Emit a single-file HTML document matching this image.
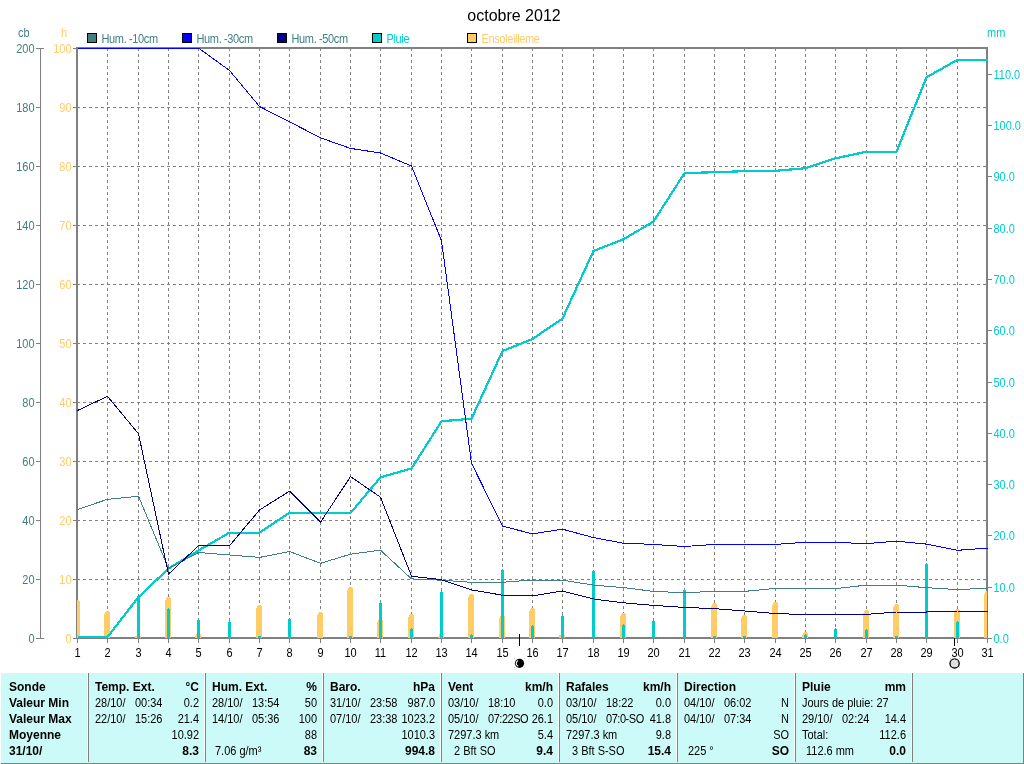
<!DOCTYPE html>
<html><head><meta charset="utf-8"><style>
html,body{margin:0;padding:0;background:#fff;width:1024px;height:764px;overflow:hidden}
svg{display:block;will-change:transform}
text{font-family:"Liberation Sans", sans-serif}
</style></head><body>
<svg width="1024" height="764" viewBox="0 0 1024 764" shape-rendering="crispEdges">
<rect width="1024" height="764" fill="#fff"/>
<line x1="77" y1="107.5" x2="986" y2="107.5" stroke="#808080" stroke-dasharray="3 3"/>
<line x1="77" y1="166.5" x2="986" y2="166.5" stroke="#808080" stroke-dasharray="3 3"/>
<line x1="77" y1="225.5" x2="986" y2="225.5" stroke="#808080" stroke-dasharray="3 3"/>
<line x1="77" y1="284.5" x2="986" y2="284.5" stroke="#808080" stroke-dasharray="3 3"/>
<line x1="77" y1="343.5" x2="986" y2="343.5" stroke="#808080" stroke-dasharray="3 3"/>
<line x1="77" y1="402.5" x2="986" y2="402.5" stroke="#808080" stroke-dasharray="3 3"/>
<line x1="77" y1="461.5" x2="986" y2="461.5" stroke="#808080" stroke-dasharray="3 3"/>
<line x1="77" y1="520.5" x2="986" y2="520.5" stroke="#808080" stroke-dasharray="3 3"/>
<line x1="77" y1="579.5" x2="986" y2="579.5" stroke="#808080" stroke-dasharray="3 3"/>
<line x1="107.5" y1="48" x2="107.5" y2="637" stroke="#808080" stroke-dasharray="3 3"/>
<line x1="138.5" y1="48" x2="138.5" y2="637" stroke="#808080" stroke-dasharray="3 3"/>
<line x1="168.5" y1="48" x2="168.5" y2="637" stroke="#808080" stroke-dasharray="3 3"/>
<line x1="198.5" y1="48" x2="198.5" y2="637" stroke="#808080" stroke-dasharray="3 3"/>
<line x1="229.5" y1="48" x2="229.5" y2="637" stroke="#808080" stroke-dasharray="3 3"/>
<line x1="259.5" y1="48" x2="259.5" y2="637" stroke="#808080" stroke-dasharray="3 3"/>
<line x1="289.5" y1="48" x2="289.5" y2="637" stroke="#808080" stroke-dasharray="3 3"/>
<line x1="320.5" y1="48" x2="320.5" y2="637" stroke="#808080" stroke-dasharray="3 3"/>
<line x1="350.5" y1="48" x2="350.5" y2="637" stroke="#808080" stroke-dasharray="3 3"/>
<line x1="380.5" y1="48" x2="380.5" y2="637" stroke="#808080" stroke-dasharray="3 3"/>
<line x1="411.5" y1="48" x2="411.5" y2="637" stroke="#808080" stroke-dasharray="3 3"/>
<line x1="441.5" y1="48" x2="441.5" y2="637" stroke="#808080" stroke-dasharray="3 3"/>
<line x1="471.5" y1="48" x2="471.5" y2="637" stroke="#808080" stroke-dasharray="3 3"/>
<line x1="502.5" y1="48" x2="502.5" y2="637" stroke="#808080" stroke-dasharray="3 3"/>
<line x1="532.5" y1="48" x2="532.5" y2="637" stroke="#808080" stroke-dasharray="3 3"/>
<line x1="562.5" y1="48" x2="562.5" y2="637" stroke="#808080" stroke-dasharray="3 3"/>
<line x1="593.5" y1="48" x2="593.5" y2="637" stroke="#808080" stroke-dasharray="3 3"/>
<line x1="623.5" y1="48" x2="623.5" y2="637" stroke="#808080" stroke-dasharray="3 3"/>
<line x1="653.5" y1="48" x2="653.5" y2="637" stroke="#808080" stroke-dasharray="3 3"/>
<line x1="684.5" y1="48" x2="684.5" y2="637" stroke="#808080" stroke-dasharray="3 3"/>
<line x1="714.5" y1="48" x2="714.5" y2="637" stroke="#808080" stroke-dasharray="3 3"/>
<line x1="744.5" y1="48" x2="744.5" y2="637" stroke="#808080" stroke-dasharray="3 3"/>
<line x1="775.5" y1="48" x2="775.5" y2="637" stroke="#808080" stroke-dasharray="3 3"/>
<line x1="805.5" y1="48" x2="805.5" y2="637" stroke="#808080" stroke-dasharray="3 3"/>
<line x1="835.5" y1="48" x2="835.5" y2="637" stroke="#808080" stroke-dasharray="3 3"/>
<line x1="866.5" y1="48" x2="866.5" y2="637" stroke="#808080" stroke-dasharray="3 3"/>
<line x1="896.5" y1="48" x2="896.5" y2="637" stroke="#808080" stroke-dasharray="3 3"/>
<line x1="926.5" y1="48" x2="926.5" y2="637" stroke="#808080" stroke-dasharray="3 3"/>
<line x1="957.5" y1="48" x2="957.5" y2="637" stroke="#808080" stroke-dasharray="3 3"/>
<rect x="76" y="47" width="912" height="2" fill="#808080"/>
<rect x="76" y="637" width="912" height="2" fill="#808080"/>
<rect x="76" y="47" width="2" height="592" fill="#808080"/>
<rect x="986" y="47" width="2" height="592" fill="#808080"/>
<rect x="40" y="48" width="1" height="591" fill="#808080"/>
<rect x="36" y="48" width="8" height="1" fill="#808080"/>
<rect x="36" y="638" width="8" height="1" fill="#808080"/>
<rect x="36" y="48" width="4" height="1" fill="#808080"/>
<rect x="73" y="48" width="3" height="1" fill="#808080"/>
<rect x="36" y="107" width="4" height="1" fill="#808080"/>
<rect x="73" y="107" width="3" height="1" fill="#808080"/>
<rect x="36" y="166" width="4" height="1" fill="#808080"/>
<rect x="73" y="166" width="3" height="1" fill="#808080"/>
<rect x="36" y="225" width="4" height="1" fill="#808080"/>
<rect x="73" y="225" width="3" height="1" fill="#808080"/>
<rect x="36" y="284" width="4" height="1" fill="#808080"/>
<rect x="73" y="284" width="3" height="1" fill="#808080"/>
<rect x="36" y="343" width="4" height="1" fill="#808080"/>
<rect x="73" y="343" width="3" height="1" fill="#808080"/>
<rect x="36" y="402" width="4" height="1" fill="#808080"/>
<rect x="73" y="402" width="3" height="1" fill="#808080"/>
<rect x="36" y="461" width="4" height="1" fill="#808080"/>
<rect x="73" y="461" width="3" height="1" fill="#808080"/>
<rect x="36" y="520" width="4" height="1" fill="#808080"/>
<rect x="73" y="520" width="3" height="1" fill="#808080"/>
<rect x="36" y="579" width="4" height="1" fill="#808080"/>
<rect x="73" y="579" width="3" height="1" fill="#808080"/>
<rect x="36" y="638" width="4" height="1" fill="#808080"/>
<rect x="73" y="638" width="3" height="1" fill="#808080"/>
<rect x="988" y="638" width="4" height="1" fill="#808080"/>
<rect x="988" y="587" width="4" height="1" fill="#808080"/>
<rect x="988" y="535" width="4" height="1" fill="#808080"/>
<rect x="988" y="484" width="4" height="1" fill="#808080"/>
<rect x="988" y="433" width="4" height="1" fill="#808080"/>
<rect x="988" y="382" width="4" height="1" fill="#808080"/>
<rect x="988" y="330" width="4" height="1" fill="#808080"/>
<rect x="988" y="279" width="4" height="1" fill="#808080"/>
<rect x="988" y="228" width="4" height="1" fill="#808080"/>
<rect x="988" y="176" width="4" height="1" fill="#808080"/>
<rect x="988" y="125" width="4" height="1" fill="#808080"/>
<rect x="988" y="74" width="4" height="1" fill="#808080"/>
<rect x="77" y="639" width="1" height="4" fill="#808080"/>
<rect x="107" y="639" width="1" height="4" fill="#808080"/>
<rect x="138" y="639" width="1" height="4" fill="#808080"/>
<rect x="168" y="639" width="1" height="4" fill="#808080"/>
<rect x="198" y="639" width="1" height="4" fill="#808080"/>
<rect x="229" y="639" width="1" height="4" fill="#808080"/>
<rect x="259" y="639" width="1" height="4" fill="#808080"/>
<rect x="289" y="639" width="1" height="4" fill="#808080"/>
<rect x="320" y="639" width="1" height="4" fill="#808080"/>
<rect x="350" y="639" width="1" height="4" fill="#808080"/>
<rect x="380" y="639" width="1" height="4" fill="#808080"/>
<rect x="411" y="639" width="1" height="4" fill="#808080"/>
<rect x="441" y="639" width="1" height="4" fill="#808080"/>
<rect x="471" y="639" width="1" height="4" fill="#808080"/>
<rect x="502" y="639" width="1" height="4" fill="#808080"/>
<rect x="532" y="639" width="1" height="4" fill="#808080"/>
<rect x="562" y="639" width="1" height="4" fill="#808080"/>
<rect x="593" y="639" width="1" height="4" fill="#808080"/>
<rect x="623" y="639" width="1" height="4" fill="#808080"/>
<rect x="653" y="639" width="1" height="4" fill="#808080"/>
<rect x="684" y="639" width="1" height="4" fill="#808080"/>
<rect x="714" y="639" width="1" height="4" fill="#808080"/>
<rect x="744" y="639" width="1" height="4" fill="#808080"/>
<rect x="775" y="639" width="1" height="4" fill="#808080"/>
<rect x="805" y="639" width="1" height="4" fill="#808080"/>
<rect x="835" y="639" width="1" height="4" fill="#808080"/>
<rect x="866" y="639" width="1" height="4" fill="#808080"/>
<rect x="896" y="639" width="1" height="4" fill="#808080"/>
<rect x="926" y="639" width="1" height="4" fill="#808080"/>
<rect x="957" y="639" width="1" height="4" fill="#808080"/>
<rect x="987" y="639" width="1" height="4" fill="#808080"/>
<path d="M77,638V603H77V601H77V600H79V601H80V638Z" fill="#FFCC66"/>
<path d="M104,638V614H105V612H106V611H109V612H110V638Z" fill="#FFCC66"/>
<rect x="135" y="636" width="6" height="2" fill="#FFCC66"/>
<path d="M165,638V600H166V598H167V597H170V598H171V638Z" fill="#FFCC66"/>
<path d="M195,638V636H196V634H197V633H200V634H201V638Z" fill="#FFCC66"/>
<path d="M256,638V608H257V606H258V605H261V606H262V638Z" fill="#FFCC66"/>
<path d="M317,638V615H318V613H319V612H322V613H323V638Z" fill="#FFCC66"/>
<path d="M347,638V590H348V588H349V587H352V588H353V638Z" fill="#FFCC66"/>
<path d="M377,638V622H378V620H379V619H382V620H383V638Z" fill="#FFCC66"/>
<path d="M408,638V617H409V615H410V614H413V615H414V638Z" fill="#FFCC66"/>
<path d="M438,638V636H439V634H440V633H443V634H444V638Z" fill="#FFCC66"/>
<path d="M468,638V597H469V595H470V594H473V595H474V638Z" fill="#FFCC66"/>
<path d="M499,638V618H500V616H501V615H504V616H505V638Z" fill="#FFCC66"/>
<path d="M529,638V611H530V609H531V608H534V609H535V638Z" fill="#FFCC66"/>
<rect x="559" y="635" width="6" height="3" fill="#FFCC66"/>
<path d="M620,638V616H621V614H622V613H625V614H626V638Z" fill="#FFCC66"/>
<path d="M711,638V606H712V604H713V603H716V604H717V638Z" fill="#FFCC66"/>
<path d="M741,638V618H742V616H743V615H746V616H747V638Z" fill="#FFCC66"/>
<path d="M772,638V605H773V603H774V602H777V603H778V638Z" fill="#FFCC66"/>
<path d="M802,638V635H803V633H804V632H807V633H808V638Z" fill="#FFCC66"/>
<path d="M863,638V613H864V611H865V610H868V611H869V638Z" fill="#FFCC66"/>
<path d="M893,638V607H894V605H895V604H898V605H899V638Z" fill="#FFCC66"/>
<path d="M954,638V612H955V610H956V609H959V610H960V638Z" fill="#FFCC66"/>
<path d="M984,638V594H985V592H986V591H987V592H987V638Z" fill="#FFCC66"/>
<path d="M137,638V598H138V597H139V598H140V638Z" fill="#00CCCC"/>
<path d="M167,638V609H168V608H169V609H170V638Z" fill="#00CCCC"/>
<path d="M197,638V620H198V619H199V620H200V638Z" fill="#00CCCC"/>
<path d="M228,638V622H229V621H230V622H231V638Z" fill="#00CCCC"/>
<rect x="258" y="636" width="3" height="2" fill="#00CCCC"/>
<path d="M288,638V619H289V618H290V619H291V638Z" fill="#00CCCC"/>
<rect x="349" y="636" width="3" height="2" fill="#00CCCC"/>
<path d="M379,638V603H380V602H381V603H382V638Z" fill="#00CCCC"/>
<path d="M410,638V629H411V628H412V629H413V638Z" fill="#00CCCC"/>
<path d="M440,638V592H441V591H442V592H443V638Z" fill="#00CCCC"/>
<path d="M470,638V635H471V634H472V635H473V638Z" fill="#00CCCC"/>
<path d="M501,638V570H502V569H503V570H504V638Z" fill="#00CCCC"/>
<path d="M531,638V626H532V625H533V626H534V638Z" fill="#00CCCC"/>
<path d="M561,638V616H562V615H563V616H564V638Z" fill="#00CCCC"/>
<path d="M592,638V571H593V570H594V571H595V638Z" fill="#00CCCC"/>
<path d="M622,638V625H623V624H624V625H625V638Z" fill="#00CCCC"/>
<path d="M652,638V621H653V620H654V621H655V638Z" fill="#00CCCC"/>
<path d="M683,638V590H684V589H685V590H686V638Z" fill="#00CCCC"/>
<rect x="713" y="636" width="3" height="2" fill="#00CCCC"/>
<rect x="743" y="636" width="3" height="2" fill="#00CCCC"/>
<path d="M804,638V635H805V634H806V635H807V638Z" fill="#00CCCC"/>
<path d="M834,638V629H835V628H836V629H837V638Z" fill="#00CCCC"/>
<path d="M865,638V630H866V629H867V630H868V638Z" fill="#00CCCC"/>
<rect x="895" y="636" width="3" height="2" fill="#00CCCC"/>
<path d="M925,638V564H926V563H927V564H928V638Z" fill="#00CCCC"/>
<path d="M956,638V622H957V621H958V622H959V638Z" fill="#00CCCC"/>
<polyline points="77.5,637 107.5,637 138.5,597 168.5,568.6 198.5,550.5 229.5,532.6 259.5,532.6 289.5,512.7 320.5,512.9 350.5,513 380.5,477.3 411.5,468.5 441.5,421.3 471.5,418.7 502.5,351 532.5,339 562.5,318.5 593.5,250.9 623.5,239.3 653.5,221.5 684.5,173.1 714.5,172.2 744.5,171.2 775.5,170.8 805.5,168.2 835.5,158.3 866.5,151.7 896.5,151.7 926.5,77.3 957.5,59.8 987.5,59.8" fill="none" stroke="#00CCCC" stroke-width="2.2" stroke-linejoin="round"/>
<polyline points="77.5,509.5 107.5,499.3 138.5,496.3 168.5,568.5 198.5,552.5 229.5,555 259.5,557.4 289.5,551.5 320.5,563.3 350.5,554.2 380.5,550.2 411.5,578.9 441.5,580.2 471.5,582.3 502.5,582.3 532.5,580 562.5,580.2 593.5,585.1 623.5,587.6 653.5,591.4 684.5,592.7 714.5,591.4 744.5,591.4 775.5,588.4 805.5,588.5 835.5,588.6 866.5,585.1 896.5,585.1 926.5,587.7 957.5,589.6 987.5,588.2" fill="none" stroke="#408080" stroke-width="1" stroke-linejoin="round"/>
<polyline points="77.5,410.5 107.5,396.3 138.5,433.8 168.5,574.1 198.5,545.7 229.5,545.7 259.5,510 289.5,491.2 320.5,522.2 350.5,476.6 380.5,497.2 411.5,576.2 441.5,579.7 471.5,589.9 502.5,595.2 532.5,596 562.5,591 593.5,599 623.5,602.8 653.5,605.4 684.5,607.4 714.5,608.7 744.5,611 775.5,613.5 805.5,614.6 835.5,614.4 866.5,614.4 896.5,612 926.5,612 957.5,611 987.5,611" fill="none" stroke="#000080" stroke-width="1" stroke-linejoin="round"/>
<polyline points="77.5,48 107.5,48 138.5,48 168.5,48 198.5,48 229.5,70.5 259.5,106.5 289.5,121.8 320.5,137.8 350.5,148.4 380.5,153 411.5,166 441.5,240.7 471.5,463.2 502.5,526.2 532.5,533.8 562.5,529.2 593.5,537.6 623.5,543.2 653.5,544.4 684.5,546.5 714.5,544.4 744.5,544.4 775.5,544.4 805.5,542.3 835.5,542.4 866.5,543.6 896.5,541.2 926.5,544.1 957.5,550.3 987.5,548.1" fill="none" stroke="#0000FF" stroke-width="1" stroke-linejoin="round"/>
<text x="514" y="21" fill="#000" font-size="16" font-weight="normal" text-anchor="middle" xml:space="preserve">octobre 2012</text>
<text transform="translate(18,37) scale(1,1.12)" fill="#408080" font-size="11" font-weight="normal" text-anchor="start" xml:space="preserve">cb</text>
<text transform="translate(61,37) scale(1,1.12)" fill="#FFCC66" font-size="11" font-weight="normal" text-anchor="start" xml:space="preserve">h</text>
<text transform="translate(987,37) scale(1,1.12)" fill="#00CCCC" font-size="11" font-weight="normal" text-anchor="start" xml:space="preserve">mm</text>
<text transform="translate(34.5,52.5) scale(1,1.12)" fill="#408080" font-size="11" font-weight="normal" text-anchor="end" xml:space="preserve">200</text>
<text transform="translate(71.5,52.5) scale(1,1.12)" fill="#FFCC66" font-size="11" font-weight="normal" text-anchor="end" xml:space="preserve">100</text>
<text transform="translate(34.5,111.5) scale(1,1.12)" fill="#408080" font-size="11" font-weight="normal" text-anchor="end" xml:space="preserve">180</text>
<text transform="translate(71.5,111.5) scale(1,1.12)" fill="#FFCC66" font-size="11" font-weight="normal" text-anchor="end" xml:space="preserve">90</text>
<text transform="translate(34.5,170.5) scale(1,1.12)" fill="#408080" font-size="11" font-weight="normal" text-anchor="end" xml:space="preserve">160</text>
<text transform="translate(71.5,170.5) scale(1,1.12)" fill="#FFCC66" font-size="11" font-weight="normal" text-anchor="end" xml:space="preserve">80</text>
<text transform="translate(34.5,229.5) scale(1,1.12)" fill="#408080" font-size="11" font-weight="normal" text-anchor="end" xml:space="preserve">140</text>
<text transform="translate(71.5,229.5) scale(1,1.12)" fill="#FFCC66" font-size="11" font-weight="normal" text-anchor="end" xml:space="preserve">70</text>
<text transform="translate(34.5,288.5) scale(1,1.12)" fill="#408080" font-size="11" font-weight="normal" text-anchor="end" xml:space="preserve">120</text>
<text transform="translate(71.5,288.5) scale(1,1.12)" fill="#FFCC66" font-size="11" font-weight="normal" text-anchor="end" xml:space="preserve">60</text>
<text transform="translate(34.5,347.5) scale(1,1.12)" fill="#408080" font-size="11" font-weight="normal" text-anchor="end" xml:space="preserve">100</text>
<text transform="translate(71.5,347.5) scale(1,1.12)" fill="#FFCC66" font-size="11" font-weight="normal" text-anchor="end" xml:space="preserve">50</text>
<text transform="translate(34.5,406.5) scale(1,1.12)" fill="#408080" font-size="11" font-weight="normal" text-anchor="end" xml:space="preserve">80</text>
<text transform="translate(71.5,406.5) scale(1,1.12)" fill="#FFCC66" font-size="11" font-weight="normal" text-anchor="end" xml:space="preserve">40</text>
<text transform="translate(34.5,465.5) scale(1,1.12)" fill="#408080" font-size="11" font-weight="normal" text-anchor="end" xml:space="preserve">60</text>
<text transform="translate(71.5,465.5) scale(1,1.12)" fill="#FFCC66" font-size="11" font-weight="normal" text-anchor="end" xml:space="preserve">30</text>
<text transform="translate(34.5,524.5) scale(1,1.12)" fill="#408080" font-size="11" font-weight="normal" text-anchor="end" xml:space="preserve">40</text>
<text transform="translate(71.5,524.5) scale(1,1.12)" fill="#FFCC66" font-size="11" font-weight="normal" text-anchor="end" xml:space="preserve">20</text>
<text transform="translate(34.5,583.5) scale(1,1.12)" fill="#408080" font-size="11" font-weight="normal" text-anchor="end" xml:space="preserve">20</text>
<text transform="translate(71.5,583.5) scale(1,1.12)" fill="#FFCC66" font-size="11" font-weight="normal" text-anchor="end" xml:space="preserve">10</text>
<text transform="translate(34.5,642.5) scale(1,1.12)" fill="#408080" font-size="11" font-weight="normal" text-anchor="end" xml:space="preserve">0</text>
<text transform="translate(71.5,642.5) scale(1,1.12)" fill="#FFCC66" font-size="11" font-weight="normal" text-anchor="end" xml:space="preserve">0</text>
<text transform="translate(993.5,642.5) scale(1,1.12)" fill="#00CCCC" font-size="11" font-weight="normal" text-anchor="start" xml:space="preserve">0.0</text>
<text transform="translate(993.5,591.5) scale(1,1.12)" fill="#00CCCC" font-size="11" font-weight="normal" text-anchor="start" xml:space="preserve">10.0</text>
<text transform="translate(993.5,539.5) scale(1,1.12)" fill="#00CCCC" font-size="11" font-weight="normal" text-anchor="start" xml:space="preserve">20.0</text>
<text transform="translate(993.5,488.5) scale(1,1.12)" fill="#00CCCC" font-size="11" font-weight="normal" text-anchor="start" xml:space="preserve">30.0</text>
<text transform="translate(993.5,437.5) scale(1,1.12)" fill="#00CCCC" font-size="11" font-weight="normal" text-anchor="start" xml:space="preserve">40.0</text>
<text transform="translate(993.5,386.5) scale(1,1.12)" fill="#00CCCC" font-size="11" font-weight="normal" text-anchor="start" xml:space="preserve">50.0</text>
<text transform="translate(993.5,334.5) scale(1,1.12)" fill="#00CCCC" font-size="11" font-weight="normal" text-anchor="start" xml:space="preserve">60.0</text>
<text transform="translate(993.5,283.5) scale(1,1.12)" fill="#00CCCC" font-size="11" font-weight="normal" text-anchor="start" xml:space="preserve">70.0</text>
<text transform="translate(993.5,232.5) scale(1,1.12)" fill="#00CCCC" font-size="11" font-weight="normal" text-anchor="start" xml:space="preserve">80.0</text>
<text transform="translate(993.5,180.5) scale(1,1.12)" fill="#00CCCC" font-size="11" font-weight="normal" text-anchor="start" xml:space="preserve">90.0</text>
<text transform="translate(993.5,129.5) scale(1,1.12)" fill="#00CCCC" font-size="11" font-weight="normal" text-anchor="start" xml:space="preserve">100.0</text>
<text transform="translate(993.5,78.5) scale(1,1.12)" fill="#00CCCC" font-size="11" font-weight="normal" text-anchor="start" xml:space="preserve">110.0</text>
<text transform="translate(77.5,657) scale(1,1.12)" fill="#000" font-size="11" font-weight="normal" text-anchor="middle" xml:space="preserve">1</text>
<text transform="translate(107.5,657) scale(1,1.12)" fill="#000" font-size="11" font-weight="normal" text-anchor="middle" xml:space="preserve">2</text>
<text transform="translate(138.5,657) scale(1,1.12)" fill="#000" font-size="11" font-weight="normal" text-anchor="middle" xml:space="preserve">3</text>
<text transform="translate(168.5,657) scale(1,1.12)" fill="#000" font-size="11" font-weight="normal" text-anchor="middle" xml:space="preserve">4</text>
<text transform="translate(198.5,657) scale(1,1.12)" fill="#000" font-size="11" font-weight="normal" text-anchor="middle" xml:space="preserve">5</text>
<text transform="translate(229.5,657) scale(1,1.12)" fill="#000" font-size="11" font-weight="normal" text-anchor="middle" xml:space="preserve">6</text>
<text transform="translate(259.5,657) scale(1,1.12)" fill="#000" font-size="11" font-weight="normal" text-anchor="middle" xml:space="preserve">7</text>
<text transform="translate(289.5,657) scale(1,1.12)" fill="#000" font-size="11" font-weight="normal" text-anchor="middle" xml:space="preserve">8</text>
<text transform="translate(320.5,657) scale(1,1.12)" fill="#000" font-size="11" font-weight="normal" text-anchor="middle" xml:space="preserve">9</text>
<text transform="translate(350.5,657) scale(1,1.12)" fill="#000" font-size="11" font-weight="normal" text-anchor="middle" xml:space="preserve">10</text>
<text transform="translate(380.5,657) scale(1,1.12)" fill="#000" font-size="11" font-weight="normal" text-anchor="middle" xml:space="preserve">11</text>
<text transform="translate(411.5,657) scale(1,1.12)" fill="#000" font-size="11" font-weight="normal" text-anchor="middle" xml:space="preserve">12</text>
<text transform="translate(441.5,657) scale(1,1.12)" fill="#000" font-size="11" font-weight="normal" text-anchor="middle" xml:space="preserve">13</text>
<text transform="translate(471.5,657) scale(1,1.12)" fill="#000" font-size="11" font-weight="normal" text-anchor="middle" xml:space="preserve">14</text>
<text transform="translate(502.5,657) scale(1,1.12)" fill="#000" font-size="11" font-weight="normal" text-anchor="middle" xml:space="preserve">15</text>
<text transform="translate(532.5,657) scale(1,1.12)" fill="#000" font-size="11" font-weight="normal" text-anchor="middle" xml:space="preserve">16</text>
<text transform="translate(562.5,657) scale(1,1.12)" fill="#000" font-size="11" font-weight="normal" text-anchor="middle" xml:space="preserve">17</text>
<text transform="translate(593.5,657) scale(1,1.12)" fill="#000" font-size="11" font-weight="normal" text-anchor="middle" xml:space="preserve">18</text>
<text transform="translate(623.5,657) scale(1,1.12)" fill="#000" font-size="11" font-weight="normal" text-anchor="middle" xml:space="preserve">19</text>
<text transform="translate(653.5,657) scale(1,1.12)" fill="#000" font-size="11" font-weight="normal" text-anchor="middle" xml:space="preserve">20</text>
<text transform="translate(684.5,657) scale(1,1.12)" fill="#000" font-size="11" font-weight="normal" text-anchor="middle" xml:space="preserve">21</text>
<text transform="translate(714.5,657) scale(1,1.12)" fill="#000" font-size="11" font-weight="normal" text-anchor="middle" xml:space="preserve">22</text>
<text transform="translate(744.5,657) scale(1,1.12)" fill="#000" font-size="11" font-weight="normal" text-anchor="middle" xml:space="preserve">23</text>
<text transform="translate(775.5,657) scale(1,1.12)" fill="#000" font-size="11" font-weight="normal" text-anchor="middle" xml:space="preserve">24</text>
<text transform="translate(805.5,657) scale(1,1.12)" fill="#000" font-size="11" font-weight="normal" text-anchor="middle" xml:space="preserve">25</text>
<text transform="translate(835.5,657) scale(1,1.12)" fill="#000" font-size="11" font-weight="normal" text-anchor="middle" xml:space="preserve">26</text>
<text transform="translate(866.5,657) scale(1,1.12)" fill="#000" font-size="11" font-weight="normal" text-anchor="middle" xml:space="preserve">27</text>
<text transform="translate(896.5,657) scale(1,1.12)" fill="#000" font-size="11" font-weight="normal" text-anchor="middle" xml:space="preserve">28</text>
<text transform="translate(926.5,657) scale(1,1.12)" fill="#000" font-size="11" font-weight="normal" text-anchor="middle" xml:space="preserve">29</text>
<text transform="translate(957.5,657) scale(1,1.12)" fill="#000" font-size="11" font-weight="normal" text-anchor="middle" xml:space="preserve">30</text>
<text transform="translate(987.5,657) scale(1,1.12)" fill="#000" font-size="11" font-weight="normal" text-anchor="middle" xml:space="preserve">31</text>
<rect x="87.5" y="33.5" width="9" height="9" fill="#408080" stroke="#000"/>
<text transform="translate(101.5,43) scale(1,1.12)" fill="#408080" font-size="11" font-weight="normal" text-anchor="start" letter-spacing="-0.35" xml:space="preserve">Hum. -10cm</text>
<rect x="182.5" y="33.5" width="9" height="9" fill="#0000FF" stroke="#000"/>
<text transform="translate(196.5,43) scale(1,1.12)" fill="#408080" font-size="11" font-weight="normal" text-anchor="start" letter-spacing="-0.35" xml:space="preserve">Hum. -30cm</text>
<rect x="277.5" y="33.5" width="9" height="9" fill="#000080" stroke="#000"/>
<text transform="translate(291.5,43) scale(1,1.12)" fill="#408080" font-size="11" font-weight="normal" text-anchor="start" letter-spacing="-0.35" xml:space="preserve">Hum. -50cm</text>
<rect x="372.5" y="33.5" width="9" height="9" fill="#00CCCC" stroke="#000"/>
<text transform="translate(386.5,43) scale(1,1.12)" fill="#00CCCC" font-size="11" font-weight="normal" text-anchor="start" letter-spacing="-0.35" xml:space="preserve">Pluie</text>
<rect x="467.5" y="33.5" width="9" height="9" fill="#FFCC66" stroke="#000"/>
<text transform="translate(481.5,43) scale(1,1.12)" fill="#FFCC66" font-size="11" font-weight="normal" text-anchor="start" letter-spacing="-0.35" xml:space="preserve">Ensoleilleme</text>
<rect x="519" y="634" width="1" height="12" fill="#000"/>
<rect x="954" y="638" width="1" height="8" fill="#000"/>
<g shape-rendering="geometricPrecision">
<circle cx="519.5" cy="663.3" r="4.6" fill="#000"/>
<path d="M518.2,660.4 A3.1,3.1 0 0 0 518.2,666.2" fill="none" stroke="#fff" stroke-width="1.1"/>
<circle cx="954.6" cy="663.4" r="4.6" fill="#DADADA" stroke="#000" stroke-width="1.3"/>
<path d="M951.5,666 L957.5,660 M952,662 L955,659 M954,667 L958,663" stroke="#fff" stroke-width="0.8" opacity="0.7"/>
</g>
<rect x="514" y="658" width="1" height="1" fill="#C8C8C8"/>
<rect x="514" y="667" width="1" height="1" fill="#C8C8C8"/>
<rect x="524" y="658" width="1" height="1" fill="#C8C8C8"/>
<rect x="524" y="667" width="1" height="1" fill="#C8C8C8"/>
<rect x="950" y="658" width="1" height="1" fill="#C8C8C8"/>
<rect x="950" y="667" width="1" height="1" fill="#C8C8C8"/>
<rect x="959" y="658" width="1" height="1" fill="#C8C8C8"/>
<rect x="959" y="667" width="1" height="1" fill="#C8C8C8"/>
<rect x="1" y="673" width="1022" height="91" fill="#808080"/>
<rect x="1" y="673" width="1022" height="90" fill="#CCFAF8"/>
<rect x="1" y="673" width="1021" height="89" fill="#CCFAF8"/>
<rect x="1023" y="673" width="1" height="91" fill="#808080"/>
<rect x="87" y="673" width="1" height="89" fill="#FFFFFF"/>
<rect x="88" y="673" width="1" height="89" fill="#808080"/>
<rect x="204" y="673" width="1" height="89" fill="#FFFFFF"/>
<rect x="205" y="673" width="1" height="89" fill="#808080"/>
<rect x="322" y="673" width="1" height="89" fill="#FFFFFF"/>
<rect x="323" y="673" width="1" height="89" fill="#808080"/>
<rect x="440" y="673" width="1" height="89" fill="#FFFFFF"/>
<rect x="441" y="673" width="1" height="89" fill="#808080"/>
<rect x="558" y="673" width="1" height="89" fill="#FFFFFF"/>
<rect x="559" y="673" width="1" height="89" fill="#808080"/>
<rect x="676" y="673" width="1" height="89" fill="#FFFFFF"/>
<rect x="677" y="673" width="1" height="89" fill="#808080"/>
<rect x="794" y="673" width="1" height="89" fill="#FFFFFF"/>
<rect x="795" y="673" width="1" height="89" fill="#808080"/>
<rect x="911" y="673" width="1" height="89" fill="#FFFFFF"/>
<rect x="912" y="673" width="1" height="89" fill="#808080"/>
<text x="9" y="691" fill="#000" font-size="12" font-weight="bold" text-anchor="start" xml:space="preserve">Sonde</text>
<text x="9" y="707" fill="#000" font-size="12" font-weight="bold" text-anchor="start" xml:space="preserve">Valeur Min</text>
<text x="9" y="723" fill="#000" font-size="12" font-weight="bold" text-anchor="start" xml:space="preserve">Valeur Max</text>
<text x="9" y="739" fill="#000" font-size="12" font-weight="bold" text-anchor="start" xml:space="preserve">Moyenne</text>
<text x="9" y="755" fill="#000" font-size="12" font-weight="bold" text-anchor="start" xml:space="preserve">31/10/</text>
<text x="95" y="691" fill="#000" font-size="12" font-weight="bold" text-anchor="start" xml:space="preserve">Temp. Ext.</text>
<text x="199" y="691" fill="#000" font-size="12" font-weight="bold" text-anchor="end" xml:space="preserve">°C</text>
<text transform="translate(95,707) scale(1,1.12)" fill="#000" font-size="11" font-weight="normal" text-anchor="start" xml:space="preserve">28/10/</text>
<text transform="translate(135,707) scale(1,1.12)" fill="#000" font-size="11" font-weight="normal" text-anchor="start" xml:space="preserve">00:34</text>
<text transform="translate(199,707) scale(1,1.12)" fill="#000" font-size="11" font-weight="normal" text-anchor="end" xml:space="preserve">0.2</text>
<text transform="translate(95,723) scale(1,1.12)" fill="#000" font-size="11" font-weight="normal" text-anchor="start" xml:space="preserve">22/10/</text>
<text transform="translate(135,723) scale(1,1.12)" fill="#000" font-size="11" font-weight="normal" text-anchor="start" xml:space="preserve">15:26</text>
<text transform="translate(199,723) scale(1,1.12)" fill="#000" font-size="11" font-weight="normal" text-anchor="end" xml:space="preserve">21.4</text>
<text transform="translate(199,739) scale(1,1.12)" fill="#000" font-size="11" font-weight="normal" text-anchor="end" xml:space="preserve">10.92</text>
<text x="199" y="755" fill="#000" font-size="12" font-weight="bold" text-anchor="end" xml:space="preserve">8.3</text>
<text x="212" y="691" fill="#000" font-size="12" font-weight="bold" text-anchor="start" xml:space="preserve">Hum. Ext.</text>
<text x="317" y="691" fill="#000" font-size="12" font-weight="bold" text-anchor="end" xml:space="preserve">%</text>
<text transform="translate(212,707) scale(1,1.12)" fill="#000" font-size="11" font-weight="normal" text-anchor="start" xml:space="preserve">28/10/</text>
<text transform="translate(252,707) scale(1,1.12)" fill="#000" font-size="11" font-weight="normal" text-anchor="start" xml:space="preserve">13:54</text>
<text transform="translate(317,707) scale(1,1.12)" fill="#000" font-size="11" font-weight="normal" text-anchor="end" xml:space="preserve">50</text>
<text transform="translate(212,723) scale(1,1.12)" fill="#000" font-size="11" font-weight="normal" text-anchor="start" xml:space="preserve">14/10/</text>
<text transform="translate(252,723) scale(1,1.12)" fill="#000" font-size="11" font-weight="normal" text-anchor="start" xml:space="preserve">05:36</text>
<text transform="translate(317,723) scale(1,1.12)" fill="#000" font-size="11" font-weight="normal" text-anchor="end" xml:space="preserve">100</text>
<text transform="translate(317,739) scale(1,1.12)" fill="#000" font-size="11" font-weight="normal" text-anchor="end" xml:space="preserve">88</text>
<text transform="translate(215,755) scale(1,1.12)" fill="#000" font-size="11" font-weight="normal" text-anchor="start" xml:space="preserve">7.06 g/m³</text>
<text x="317" y="755" fill="#000" font-size="12" font-weight="bold" text-anchor="end" xml:space="preserve">83</text>
<text x="330" y="691" fill="#000" font-size="12" font-weight="bold" text-anchor="start" xml:space="preserve">Baro.</text>
<text x="435" y="691" fill="#000" font-size="12" font-weight="bold" text-anchor="end" xml:space="preserve">hPa</text>
<text transform="translate(330,707) scale(1,1.12)" fill="#000" font-size="11" font-weight="normal" text-anchor="start" xml:space="preserve">31/10/</text>
<text transform="translate(370,707) scale(1,1.12)" fill="#000" font-size="11" font-weight="normal" text-anchor="start" xml:space="preserve">23:58</text>
<text transform="translate(435,707) scale(1,1.12)" fill="#000" font-size="11" font-weight="normal" text-anchor="end" xml:space="preserve">987.0</text>
<text transform="translate(330,723) scale(1,1.12)" fill="#000" font-size="11" font-weight="normal" text-anchor="start" xml:space="preserve">07/10/</text>
<text transform="translate(370,723) scale(1,1.12)" fill="#000" font-size="11" font-weight="normal" text-anchor="start" xml:space="preserve">23:38</text>
<text transform="translate(435,723) scale(1,1.12)" fill="#000" font-size="11" font-weight="normal" text-anchor="end" xml:space="preserve">1023.2</text>
<text transform="translate(435,739) scale(1,1.12)" fill="#000" font-size="11" font-weight="normal" text-anchor="end" xml:space="preserve">1010.3</text>
<text x="435" y="755" fill="#000" font-size="12" font-weight="bold" text-anchor="end" xml:space="preserve">994.8</text>
<text x="448" y="691" fill="#000" font-size="12" font-weight="bold" text-anchor="start" xml:space="preserve">Vent</text>
<text x="553" y="691" fill="#000" font-size="12" font-weight="bold" text-anchor="end" xml:space="preserve">km/h</text>
<text transform="translate(448,707) scale(1,1.12)" fill="#000" font-size="11" font-weight="normal" text-anchor="start" xml:space="preserve">03/10/</text>
<text transform="translate(488,707) scale(1,1.12)" fill="#000" font-size="11" font-weight="normal" text-anchor="start" xml:space="preserve">18:10</text>
<text transform="translate(553,707) scale(1,1.12)" fill="#000" font-size="11" font-weight="normal" text-anchor="end" xml:space="preserve">0.0</text>
<text transform="translate(448,723) scale(1,1.12)" fill="#000" font-size="11" font-weight="normal" text-anchor="start" xml:space="preserve">05/10/</text>
<text transform="translate(488,723) scale(1,1.12)" fill="#000" font-size="11" font-weight="normal" text-anchor="start" letter-spacing="-0.45" xml:space="preserve">07:22SO</text>
<text transform="translate(553,723) scale(1,1.12)" fill="#000" font-size="11" font-weight="normal" text-anchor="end" xml:space="preserve">26.1</text>
<text transform="translate(448,739) scale(1,1.12)" fill="#000" font-size="11" font-weight="normal" text-anchor="start" xml:space="preserve">7297.3 km</text>
<text transform="translate(553,739) scale(1,1.12)" fill="#000" font-size="11" font-weight="normal" text-anchor="end" xml:space="preserve">5.4</text>
<text transform="translate(454,755) scale(1,1.12)" fill="#000" font-size="11" font-weight="normal" text-anchor="start" xml:space="preserve">2 Bft SO</text>
<text x="553" y="755" fill="#000" font-size="12" font-weight="bold" text-anchor="end" xml:space="preserve">9.4</text>
<text x="566" y="691" fill="#000" font-size="12" font-weight="bold" text-anchor="start" xml:space="preserve">Rafales</text>
<text x="671" y="691" fill="#000" font-size="12" font-weight="bold" text-anchor="end" xml:space="preserve">km/h</text>
<text transform="translate(566,707) scale(1,1.12)" fill="#000" font-size="11" font-weight="normal" text-anchor="start" xml:space="preserve">03/10/</text>
<text transform="translate(606,707) scale(1,1.12)" fill="#000" font-size="11" font-weight="normal" text-anchor="start" xml:space="preserve">18:22</text>
<text transform="translate(671,707) scale(1,1.12)" fill="#000" font-size="11" font-weight="normal" text-anchor="end" xml:space="preserve">0.0</text>
<text transform="translate(566,723) scale(1,1.12)" fill="#000" font-size="11" font-weight="normal" text-anchor="start" xml:space="preserve">05/10/</text>
<text transform="translate(606,723) scale(1,1.12)" fill="#000" font-size="11" font-weight="normal" text-anchor="start" letter-spacing="-0.45" xml:space="preserve">07:0-SO</text>
<text transform="translate(671,723) scale(1,1.12)" fill="#000" font-size="11" font-weight="normal" text-anchor="end" xml:space="preserve">41.8</text>
<text transform="translate(566,739) scale(1,1.12)" fill="#000" font-size="11" font-weight="normal" text-anchor="start" xml:space="preserve">7297.3 km</text>
<text transform="translate(671,739) scale(1,1.12)" fill="#000" font-size="11" font-weight="normal" text-anchor="end" xml:space="preserve">9.8</text>
<text transform="translate(572,755) scale(1,1.12)" fill="#000" font-size="11" font-weight="normal" text-anchor="start" xml:space="preserve">3 Bft S-SO</text>
<text x="671" y="755" fill="#000" font-size="12" font-weight="bold" text-anchor="end" xml:space="preserve">15.4</text>
<text x="684" y="691" fill="#000" font-size="12" font-weight="bold" text-anchor="start" xml:space="preserve">Direction</text>
<text transform="translate(684,707) scale(1,1.12)" fill="#000" font-size="11" font-weight="normal" text-anchor="start" xml:space="preserve">04/10/</text>
<text transform="translate(724,707) scale(1,1.12)" fill="#000" font-size="11" font-weight="normal" text-anchor="start" xml:space="preserve">06:02</text>
<text transform="translate(789,707) scale(1,1.12)" fill="#000" font-size="11" font-weight="normal" text-anchor="end" xml:space="preserve">N</text>
<text transform="translate(684,723) scale(1,1.12)" fill="#000" font-size="11" font-weight="normal" text-anchor="start" xml:space="preserve">04/10/</text>
<text transform="translate(724,723) scale(1,1.12)" fill="#000" font-size="11" font-weight="normal" text-anchor="start" xml:space="preserve">07:34</text>
<text transform="translate(789,723) scale(1,1.12)" fill="#000" font-size="11" font-weight="normal" text-anchor="end" xml:space="preserve">N</text>
<text transform="translate(789,739) scale(1,1.12)" fill="#000" font-size="11" font-weight="normal" text-anchor="end" xml:space="preserve">SO</text>
<text transform="translate(688,755) scale(1,1.12)" fill="#000" font-size="11" font-weight="normal" text-anchor="start" xml:space="preserve">225 °</text>
<text x="789" y="755" fill="#000" font-size="12" font-weight="bold" text-anchor="end" xml:space="preserve">SO</text>
<text x="802" y="691" fill="#000" font-size="12" font-weight="bold" text-anchor="start" xml:space="preserve">Pluie</text>
<text x="906" y="691" fill="#000" font-size="12" font-weight="bold" text-anchor="end" xml:space="preserve">mm</text>
<text transform="translate(802,707) scale(1,1.12)" fill="#000" font-size="11" font-weight="normal" text-anchor="start" xml:space="preserve">Jours de pluie: 27</text>
<text transform="translate(802,723) scale(1,1.12)" fill="#000" font-size="11" font-weight="normal" text-anchor="start" xml:space="preserve">29/10/</text>
<text transform="translate(842,723) scale(1,1.12)" fill="#000" font-size="11" font-weight="normal" text-anchor="start" xml:space="preserve">02:24</text>
<text transform="translate(906,723) scale(1,1.12)" fill="#000" font-size="11" font-weight="normal" text-anchor="end" xml:space="preserve">14.4</text>
<text transform="translate(802,739) scale(1,1.12)" fill="#000" font-size="11" font-weight="normal" text-anchor="start" xml:space="preserve">Total:</text>
<text transform="translate(906,739) scale(1,1.12)" fill="#000" font-size="11" font-weight="normal" text-anchor="end" xml:space="preserve">112.6</text>
<text transform="translate(806,755) scale(1,1.12)" fill="#000" font-size="11" font-weight="normal" text-anchor="start" xml:space="preserve">112.6 mm</text>
<text x="906" y="755" fill="#000" font-size="12" font-weight="bold" text-anchor="end" xml:space="preserve">0.0</text>
</svg>
</body></html>
